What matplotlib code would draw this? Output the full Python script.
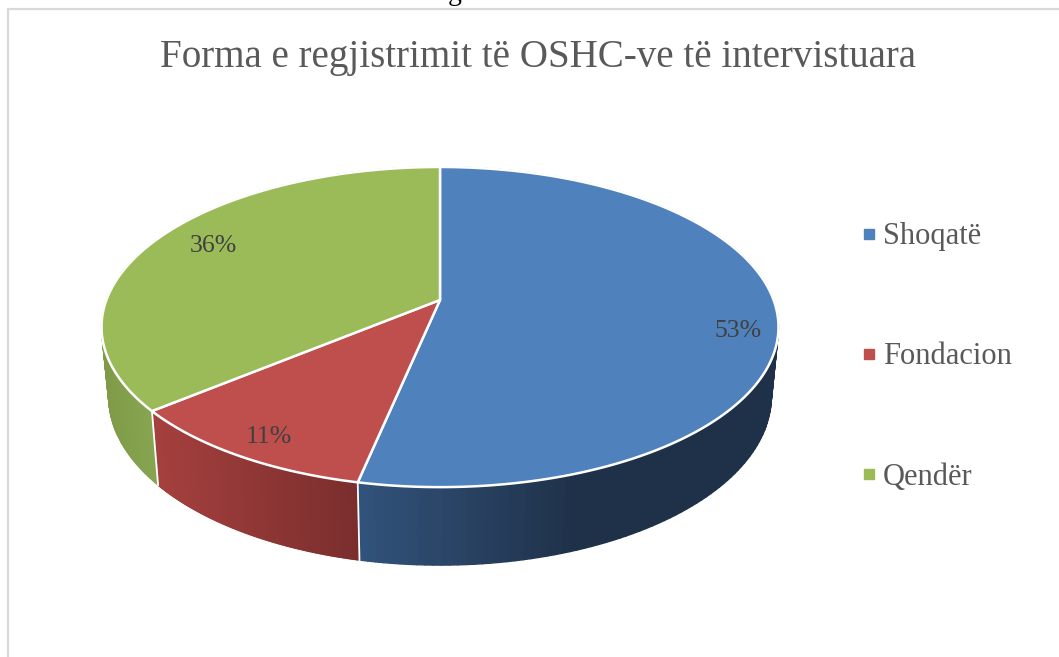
import numpy as np
import matplotlib
matplotlib.use("Agg")
import matplotlib.pyplot as plt
from matplotlib.patches import Polygon
from matplotlib.lines import Line2D
from matplotlib.collections import PolyCollection
from matplotlib.colors import to_rgb

TITLE = "Forma e regjistrimit të OSHC-ve të intervistuara"
categories = ["Shoqatë", "Fondacion", "Qendër"]
shares = [53.3, 10.7, 36.0]
top_colors = ["#4F81BD", "#BE4F4C", "#9BBB59"]
wall_left = ["#31527A", "#A5403E", "#7F9B48"]
wall_right = ["#1F3149", "#792E2D", "#87A550"]
wall_stop_px = [575, 358, 158]
label_pos = [(738, 331), (269, 437), (213, 246)]
FONT = "Liberation Serif"

W, H = 1059, 657
fig = plt.figure(figsize=(W / 100, H / 100), dpi=100, facecolor="white")
ax = fig.add_axes([0, 0, 1, 1])
ax.set_xlim(0, W)
ax.set_ylim(H, 0)
ax.axis("off")

# Perspective projection of the disc (top face and bottom face)
CX, K = 440.0, -0.169
def project(theta, A, B, y0):
    X, Y = np.sin(theta), -np.cos(theta)
    den = 1 + K * Y
    return CX + A * X / den, y0 + B * Y / den
TOP = (333.6, 155.5, 300.0)
BOT = (326.5, 163.8, 368.0)

# Frame of the chart
ax.add_line(Line2D([8, 8, W], [H, 9, 9], color="#D9D9D9", lw=1.6, zorder=0))

edges = np.cumsum([0] + shares) / np.sum(shares) * 2 * np.pi

# Side walls: wide overlapping quads between rims, shaded along x
for i in range(len(shares)):
    t = np.linspace(edges[i], edges[i + 1], 160)
    xt, yt = project(t, *TOP)
    xb, yb = project(t, *BOT)
    quads = [[(xt[j], yt[j]), (xt[j + 1], yt[j + 1]), (xb[j + 1], yb[j + 1]), (xb[j], yb[j])]
             for j in range(len(t) - 1)]
    xm = (xb[:-1] + xb[1:]) / 2
    front = yb[:-1] > 400
    lo, hi = xm[front].min(), xm[front].max()
    if i == 0:
        hi = wall_stop_px[0]
    f = np.clip((xm - lo) / (hi - lo), 0, 1)[:, None]
    cols = np.array(to_rgb(wall_left[i]))[None] * (1 - f) + np.array(to_rgb(wall_right[i]))[None] * f
    ax.add_collection(PolyCollection(quads, facecolors=cols, edgecolors=cols,
                                     linewidths=1.0, zorder=1))
for i in range(len(shares)):
    ax.add_line(Line2D(*zip(project(edges[i], *TOP), project(edges[i], *BOT)),
                       color="white", lw=1.3, zorder=1.5))

# Top face
for i in range(len(shares)):
    t = np.linspace(edges[i], edges[i + 1], 300)
    xt, yt = project(t, *TOP)
    pts = np.r_[[[CX, TOP[2]]], np.c_[xt, yt]]
    ax.add_patch(Polygon(pts, closed=True, fc=top_colors[i], ec="white",
                         lw=1.8, joinstyle="round", zorder=2))

# Data labels
for v, (lx, ly) in zip(shares, label_pos):
    ax.text(lx, ly, f"{v:.0f}%", ha="center", va="center", fontsize=18.5,
            family=FONT, color="#404040", zorder=3)

ax.text(538, 57, TITLE, ha="center", va="center", fontsize=28.1, family=FONT,
        color="#595959")

handles = [Line2D([], [], ls="none", marker="s", ms=7, mfc=c, mec=c) for c in top_colors]
leg = ax.legend(handles, categories, loc="center left",
                bbox_to_anchor=(860 / W, 1 - 357 / H), frameon=False,
                prop={"family": FONT, "size": 22}, labelcolor="#595959",
                handlelength=0.6, handletextpad=0.15, labelspacing=2.98,
                borderpad=0, borderaxespad=0)

# Descender of the text above the chart, cut by the picture's top edge
ax.text(455, -6, "g", ha="center", va="center", fontsize=20, family=FONT, color="black")

fig.savefig("out.png", dpi=100)
